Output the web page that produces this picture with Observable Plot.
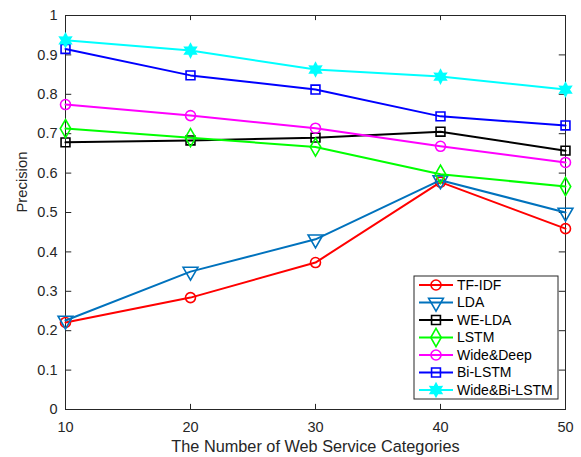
<!DOCTYPE html>
<html>
<head>
<meta charset="utf-8">
<script src="https://cdn.jsdelivr.net/npm/d3@7"></script>
<script src="https://cdn.jsdelivr.net/npm/@observablehq/plot@0.6"></script>
<style>
  body { margin: 0; background: #fff; }
  #chart { position: relative; width: 581px; height: 457px; }
</style>
</head>
<body>
<div id="chart"></div>
<script>
const categories = [10, 20, 30, 40, 50];
const tfidf      = [0.221, 0.284, 0.373, 0.577, 0.459];
const lda        = [0.226, 0.350, 0.432, 0.582, 0.500];
const weLda      = [0.678, 0.683, 0.690, 0.705, 0.657];
const lstm       = [0.713, 0.690, 0.666, 0.597, 0.566];
const wideDeep   = [0.774, 0.746, 0.714, 0.668, 0.627];
const biLstm     = [0.915, 0.848, 0.812, 0.744, 0.721];
const wideBiLstm = [0.937, 0.911, 0.863, 0.845, 0.812];
const seriesNames = ["TF-IDF", "LDA", "WE-LDA", "LSTM", "Wide&Deep", "Bi-LSTM", "Wide&Bi-LSTM"];
const xTicks = [10, 20, 30, 40, 50];
const yTicks = [0, 0.1, 0.2, 0.3, 0.4, 0.5, 0.6, 0.7, 0.8, 0.9, 1];
const xLabel = "The Number of Web Service Categories";
const yLabel = "Precision";

const hexagram = {
  draw(context, size) {
    const R = Math.sqrt(size / Math.PI) * 1.1;
    const r = R * 0.55;
    for (let i = 0; i < 12; i++) {
      const a = -Math.PI / 2 + i * Math.PI / 6;
      const rad = i % 2 === 0 ? R : r;
      const px = rad * Math.cos(a), py = rad * Math.sin(a);
      if (i === 0) context.moveTo(px, py); else context.lineTo(px, py);
    }
    context.closePath();
  }
};

const styles = {
  "TF-IDF":       {color: "#ff0000", symbol: "circle",   rotate: 0,   fill: "none", r: 5},
  "LDA":          {color: "#0072bd", symbol: "triangle", rotate: 180, fill: "none", r: 5.5},
  "WE-LDA":       {color: "#000000", symbol: "square",   rotate: 0,   fill: "none", r: 5},
  "LSTM":         {color: "#00ff00", symbol: "diamond",  rotate: 0,   fill: "none", r: 5.5},
  "Wide&Deep":    {color: "#ff00ff", symbol: "circle",   rotate: 0,   fill: "none", r: 5},
  "Bi-LSTM":      {color: "#0000ff", symbol: "square",   rotate: 0,   fill: "none", r: 5},
  "Wide&Bi-LSTM": {color: "#00ffff", symbol: hexagram,   rotate: 0,   fill: "#00ffff", r: 6}
};

const values = [tfidf, lda, weLda, lstm, wideDeep, biLstm, wideBiLstm];
const data = [];
seriesNames.forEach((name, i) => {
  categories.forEach((c, j) => data.push({series: name, x: c, y: values[i][j]}));
});

const axisColor = "#262626";
const marks = [
  Plot.frame({stroke: axisColor, strokeWidth: 1}),
  // inward ticks
  Plot.ruleX(xTicks, {x: d => d, y1: 0, y2: 0.013, stroke: axisColor}),
  Plot.ruleX(xTicks, {x: d => d, y1: 1, y2: 0.987, stroke: axisColor}),
  Plot.ruleY(yTicks, {y: d => d, x1: 10, x2: 10.5, stroke: axisColor}),
  Plot.ruleY(yTicks, {y: d => d, x1: 50, x2: 49.5, stroke: axisColor}),
  Plot.axisX({ticks: xTicks, tickSize: 0, tickPadding: 12, tickFormat: d => String(d),
    label: null, fill: axisColor, fontSize: 14.5}),
  Plot.axisY({ticks: yTicks, tickSize: 0, tickPadding: 8, tickFormat: d => (d === 0 || d === 1) ? String(d) : d.toFixed(1),
    label: null, fill: axisColor, fontSize: 14.5}),
  Plot.text([xLabel], {text: d => d, frameAnchor: "bottom", dy: 37, lineAnchor: "middle", fontSize: 16.3, fill: axisColor}),
  Plot.text([yLabel], {text: d => d, frameAnchor: "left", dx: -43, rotate: -90, lineAnchor: "middle", fontSize: 14.8, fill: axisColor})
];
seriesNames.forEach(name => {
  const s = styles[name];
  const d = data.filter(e => e.series === name);
  marks.push(Plot.line(d, {x: "x", y: "y", stroke: s.color, strokeWidth: 2}));
  marks.push(Plot.dot(d, {x: "x", y: "y", stroke: s.color, strokeWidth: 1.6, fill: s.fill, symbol: s.symbol, r: s.r, rotate: s.rotate}));
});

const plot = Plot.plot({
  width: 581,
  height: 457,
  marginLeft: 65,
  marginRight: 16,
  marginTop: 15,
  marginBottom: 48,
  x: {domain: [10, 50]},
  y: {domain: [0, 1]},
  style: {fontFamily: "'Liberation Sans', Arial, Helvetica, sans-serif", fontSize: "14px", color: axisColor, background: "#fff"},
  marks
});
document.getElementById("chart").appendChild(plot);

// Legend drawn with d3 inside the plot SVG
const svg = d3.select(plot);
const lg = svg.append("g").attr("transform", "translate(414,276)");
lg.append("rect").attr("width", 144).attr("height", 123).attr("fill", "#fff").attr("stroke", axisColor).attr("stroke-width", 1);
const symMap = {circle: d3.symbolCircle, triangle: d3.symbolTriangle, square: d3.symbolSquare, diamond: d3.symbolDiamond};
seriesNames.forEach((name, i) => {
  const s = styles[name];
  const cy = 9 + i * 17.5;
  const row = lg.append("g").attr("transform", `translate(0,${cy})`);
  row.append("line").attr("x1", 5).attr("x2", 39).attr("y1", 0).attr("y2", 0).attr("stroke", s.color).attr("stroke-width", 2);
  const sym = typeof s.symbol === "string" ? symMap[s.symbol] : s.symbol;
  row.append("path").attr("d", d3.symbol(sym, Math.PI * s.r * s.r)())
    .attr("transform", `translate(22,0) rotate(${s.rotate})`)
    .attr("fill", s.fill).attr("stroke", s.color).attr("stroke-width", 1.6);
  row.append("text").attr("x", 43).attr("y", 0).attr("dy", "0.35em")
    .attr("text-anchor", "start")
    .attr("fill", "#000").style("font-size", "14px").text(name);
});
</script>
</body>
</html>
